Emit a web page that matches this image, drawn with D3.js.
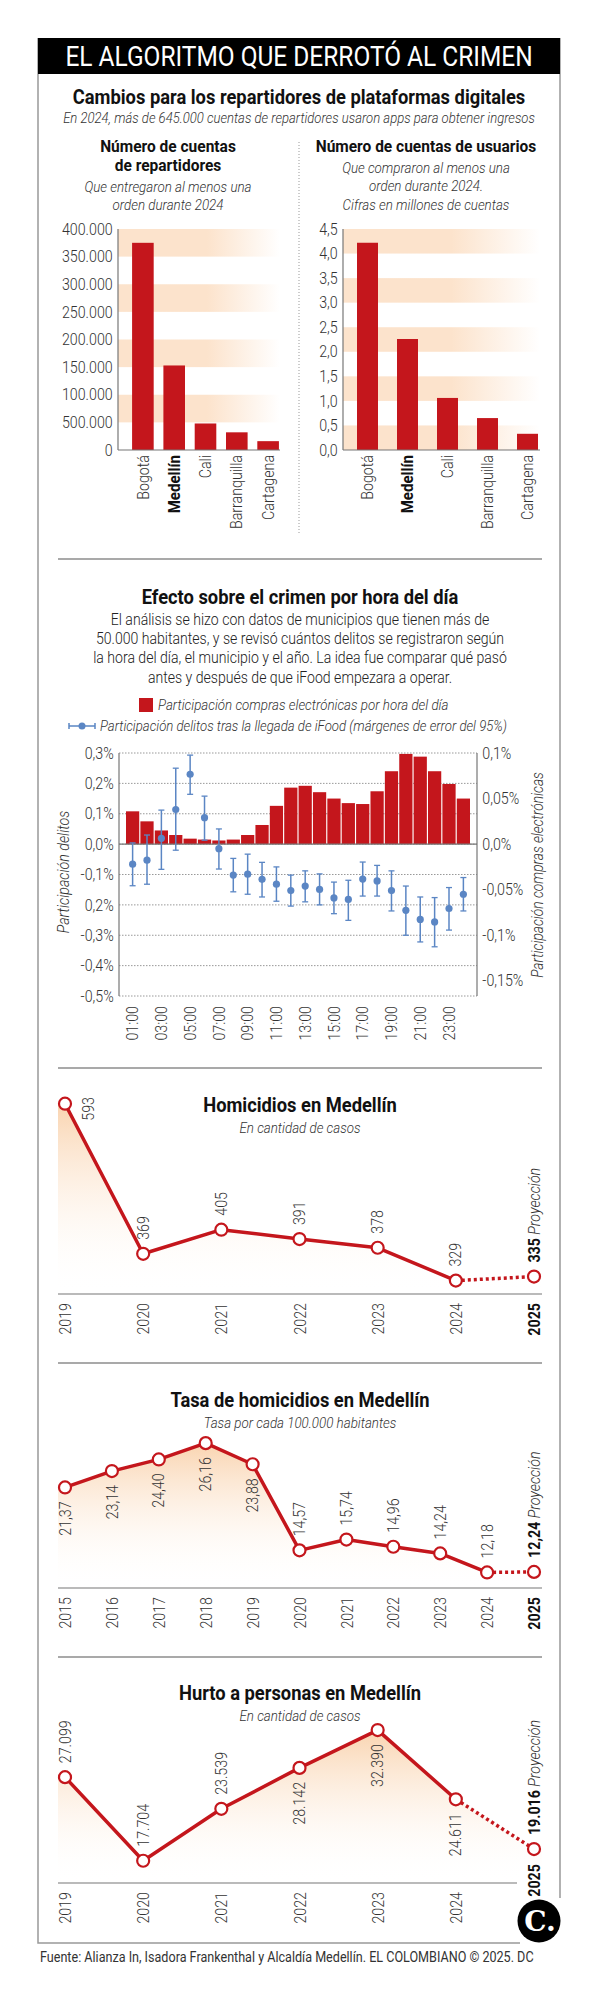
<!DOCTYPE html>
<html>
<head>
<meta charset="utf-8">
<script src="https://cdn.jsdelivr.net/npm/d3@7/dist/d3.min.js"></script>
<style>
  body { margin: 0; background: #fff; }
  svg { display: block; }
</style>
</head>
<body>
<div class="chart"></div>
<script>
// ---------- data ----------
const cities = ["Bogotá", "Medellín", "Cali", "Barranquilla", "Cartagena"];
const repartidores = [375000, 153000, 48000, 32000, 16000];
const usuarios = [4.22, 2.26, 1.06, 0.65, 0.33];
const repTicks = [0, 50000, 100000, 150000, 200000, 250000, 300000, 350000, 400000];
const repTickLabels = ["0", "500.000", "100.000", "150.000", "200.000", "250.000", "300.000", "350.000", "400.000"];
const usuTicks = [0, 0.5, 1, 1.5, 2, 2.5, 3, 3.5, 4, 4.5];
const usuTickLabels = ["0,0", "0,5", "1,0", "1,5", "2,0", "2,5", "3,0", "3,5", "4,0", "4,5"];

const hours = ["01:00", "02:00", "03:00", "04:00", "05:00", "06:00", "07:00", "08:00", "09:00", "10:00", "11:00", "12:00",
               "13:00", "14:00", "15:00", "16:00", "17:00", "18:00", "19:00", "20:00", "21:00", "22:00", "23:00", "24:00"];
const hourTicks = ["01:00", "03:00", "05:00", "07:00", "09:00", "11:00", "13:00", "15:00", "17:00", "19:00", "21:00", "23:00"];
const compras = [0.036, 0.025, 0.015, 0.010, 0.006, 0.005, 0.004, 0.005, 0.010, 0.021, 0.042, 0.062,
                 0.064, 0.057, 0.050, 0.045, 0.044, 0.058, 0.080, 0.099, 0.096, 0.080, 0.066, 0.050];
const delitos = [-0.066, -0.053, 0.019, 0.114, 0.230, 0.087, -0.015, -0.102, -0.099, -0.116, -0.132, -0.153,
                 -0.138, -0.149, -0.177, -0.182, -0.115, -0.121, -0.153, -0.218, -0.248, -0.256, -0.212, -0.165];
const delitosHigh = [0.004, 0.030, 0.112, 0.250, 0.293, 0.158, 0.050, -0.047, -0.033, -0.060, -0.075, -0.102,
                     -0.088, -0.098, -0.125, -0.119, -0.059, -0.070, -0.088, -0.138, -0.174, -0.176, -0.143, -0.110];
const delitosLow = [-0.137, -0.132, -0.083, -0.020, 0.164, 0.013, -0.082, -0.157, -0.165, -0.174, -0.188, -0.204,
                    -0.190, -0.200, -0.229, -0.251, -0.171, -0.171, -0.220, -0.300, -0.322, -0.338, -0.283, -0.220];
const delTicks = [0.3, 0.2, 0.1, 0, -0.1, -0.2, -0.3, -0.4, -0.5];
const delTickLabels = ["0,3%", "0,2%", "0,1%", "0,0%", "-0,1%", "0,2%", "-0,3%", "-0,4%", "-0,5%"];
const compTicks = [0.1, 0.05, 0, -0.05, -0.1, -0.15];
const compTickLabels = ["0,1%", "0,05%", "0,0%", "-0,05%", "-0,1%", "-0,15%"];

const homYears = ["2019", "2020", "2021", "2022", "2023", "2024", "2025"];
const homicidios = [593, 369, 405, 391, 378, 329, 335];
const tasaYears = ["2015", "2016", "2017", "2018", "2019", "2020", "2021", "2022", "2023", "2024", "2025"];
const tasa = [21.37, 23.14, 24.40, 26.16, 23.88, 14.57, 15.74, 14.96, 14.24, 12.18, 12.24];
const hurtoYears = ["2019", "2020", "2021", "2022", "2023", "2024", "2025"];
const hurto = [27099, 17704, 23539, 28142, 32390, 24611, 19016];

// ---------- setup ----------
const RED = "#c4161c", BLUE = "#5b86c4";
const frameL = 38, frameR = 560, innerL = 58, innerR = 542;
// no Roboto Condensed here, so Roboto gets squeezed horizontally
const SX = 0.89, SX_BOLD = 0.94;

const es = d3.formatLocale({decimal: ",", thousands: ".", grouping: [3], currency: ["$", ""]});
const fmtInt = es.format(",d");
const fmtDec = es.format(",.2f");

const svg = d3.select(".chart")
  .append("svg")
  .attr("width", 600)
  .attr("height", 2000)
  .style("font-family", "Roboto, 'Noto Sans', sans-serif");

const defs = svg.append("defs");
const stripe = defs.append("linearGradient").attr("id", "stripe")
  .attr("x1", 0).attr("x2", 1).attr("y1", 0).attr("y2", 0);
stripe.append("stop").attr("offset", "0%").attr("stop-color", "#fce3cc");
stripe.append("stop").attr("offset", "55%").attr("stop-color", "#fce3cc");
stripe.append("stop").attr("offset", "100%").attr("stop-color", "#ffffff");
const areaFill = defs.append("linearGradient").attr("id", "areaFill")
  .attr("x1", 0).attr("x2", 0).attr("y1", 0).attr("y2", 1);
areaFill.append("stop").attr("offset", "0%").attr("stop-color", "#f8c99c").attr("stop-opacity", 0.8);
areaFill.append("stop").attr("offset", "100%").attr("stop-color", "#ffffff").attr("stop-opacity", 0);

function txt(g, x, y, str, o = {}) {
  const w = o.weight || 300;
  const sx = o.sx || (w >= 700 ? SX_BOLD : SX);
  return g.append("text")
    .attr("transform", `translate(${x},${y}) rotate(${o.rot || 0}) scale(${sx},1)`)
    .attr("text-anchor", o.anchor || "middle")
    .attr("dy", o.dy || "0.35em")
    .attr("fill", o.fill || "#333")
    .style("font-size", (o.size || 16) + "px")
    .style("font-weight", w)
    .style("font-style", o.italic ? "italic" : "normal")
    .text(str);
}

function hline(y, x1 = innerL, x2 = innerR) {
  svg.append("line").attr("x1", x1).attr("x2", x2).attr("y1", y).attr("y2", y)
    .attr("stroke", "#555").attr("stroke-width", 1.2);
}

// ---------- frame & header ----------
svg.append("path")
  .attr("d", `M${frameL},38 V1943 H520 M${frameR},38 V1898`)
  .attr("fill", "none").attr("stroke", "#999").attr("stroke-width", 1.5);
svg.append("rect").attr("x", frameL).attr("y", 38).attr("width", frameR - frameL).attr("height", 36).attr("fill", "#000");
txt(svg, 299, 56, "EL ALGORITMO QUE DERROTÓ AL CRIMEN", {size: 27.5, weight: 400, fill: "#fff"});
txt(svg, 299, 97, "Cambios para los repartidores de plataformas digitales", {size: 19.5, weight: 700, fill: "#111"});
txt(svg, 299, 118, "En 2024, más de 645.000 cuentas de repartidores usaron apps para obtener ingresos", {size: 14.7, italic: true});

// ---------- bar charts ----------
txt(svg, 168, 146, "Número de cuentas", {size: 16.5, weight: 700, fill: "#111"});
txt(svg, 168, 165, "de repartidores", {size: 16.5, weight: 700, fill: "#111"});
txt(svg, 168, 187, "Que entregaron al menos una", {size: 15, italic: true});
txt(svg, 168, 205, "orden durante 2024", {size: 15, italic: true});

txt(svg, 426, 146, "Número de cuentas de usuarios", {size: 16.5, weight: 700, fill: "#111"});
txt(svg, 426, 168, "Que compraron al menos una", {size: 15, italic: true});
txt(svg, 426, 186, "orden durante 2024.", {size: 15, italic: true});
txt(svg, 426, 205, "Cifras en millones de cuentas", {size: 15, italic: true});

svg.append("line").attr("x1", 299).attr("x2", 299).attr("y1", 142).attr("y2", 533)
  .attr("stroke", "#999").attr("stroke-dasharray", "1,2");

function barChart(o) {
  const g = svg.append("g");
  const x = d3.scaleBand().domain(cities).range(o.xRange).paddingInner(o.pi).paddingOuter(o.po);
  const y = d3.scaleLinear().domain([0, d3.max(o.ticks)]).range([450, 229]);
  const n = o.ticks.length - 1;
  const x0 = o.xRange[0];

  // alternating shaded bands, top band shaded
  g.selectAll("rect.stripe")
    .data(d3.range(n).filter(i => (n - 1 - i) % 2 === 0))
    .join("rect")
    .attr("class", "stripe")
    .attr("x", x0)
    .attr("width", o.stripeW)
    .attr("y", i => y(o.ticks[i + 1]))
    .attr("height", i => y(o.ticks[i]) - y(o.ticks[i + 1]))
    .attr("fill", "url(#stripe)");

  g.selectAll("rect.bar")
    .data(o.values)
    .join("rect")
    .attr("class", "bar")
    .attr("x", (d, i) => x(cities[i]))
    .attr("width", x.bandwidth())
    .attr("y", d => y(d))
    .attr("height", d => y(0) - y(d))
    .attr("fill", RED);

  const ax = g.append("g")
    .attr("transform", `translate(${x0},0)`)
    .call(d3.axisLeft(y).tickValues(o.ticks).tickFormat((d, i) => o.tickLabels[i]).tickSize(0).tickPadding(6));
  styleTicks(ax).attr("transform", `scale(${SX},1)`);

  g.append("line").attr("x1", x0).attr("x2", x0).attr("y1", y(d3.max(o.ticks))).attr("y2", y(0))
    .attr("stroke", "#777").attr("stroke-width", 1.2);
  g.append("line").attr("x1", x0).attr("x2", x0 + o.stripeW).attr("y1", y(0)).attr("y2", y(0))
    .attr("stroke", "#777").attr("stroke-width", 1.2);

  cities.forEach(c => {
    const bold = c === "Medellín";
    txt(g, x(c) + x.bandwidth() / 2, y(0) + 5, c,
      {rot: -90, anchor: "end", weight: bold ? 700 : 300, fill: bold ? "#111" : "#333"});
  });
}

function styleTicks(ax) {
  ax.select(".domain").remove();
  ax.attr("font-family", null).attr("font-size", null);
  return ax.selectAll("text")
    .attr("fill", "#333")
    .style("font-size", "16px")
    .style("font-weight", 300);
}

barChart({values: repartidores, ticks: repTicks, tickLabels: repTickLabels,
  xRange: [118, 293], pi: 0.31, po: 0.45, stripeW: 162});
barChart({values: usuarios, ticks: usuTicks, tickLabels: usuTickLabels,
  xRange: [343, 552], pi: 0.475, po: 0.35, stripeW: 197});

hline(559);

// ---------- crime by hour ----------
const crime = svg.append("g");
txt(crime, 300, 597, "Efecto sobre el crimen por hora del día", {size: 19.5, weight: 700, fill: "#111"});
[
  "El análisis se hizo con datos de municipios que tienen más de",
  "50.000 habitantes, y se revisó cuántos delitos se registraron según",
  "la hora del día, el municipio y el año. La idea fue comparar qué pasó",
  "antes y después de que iFood empezara a operar."
].forEach((line, i) => txt(crime, 300, 619 + i * 19.4, line, {size: 16, fill: "#222", sx: 0.88}));

// legend
crime.append("rect").attr("x", 139).attr("y", 698).attr("width", 14).attr("height", 14).attr("fill", RED);
txt(crime, 158, 705, "Participación compras electrónicas por hora del día", {size: 15, italic: true, anchor: "start"});
crime.append("path").attr("d", "M69,726 H95 M69,723 V729 M95,723 V729")
  .attr("stroke", BLUE).attr("stroke-width", 1.5).attr("fill", "none");
crime.append("circle").attr("cx", 82).attr("cy", 726).attr("r", 3.5).attr("fill", BLUE);
txt(crime, 100, 726, "Participación delitos tras la llegada de iFood (márgenes de error del 95%)", {size: 15, italic: true, anchor: "start", sx: 0.88});

const cx = d3.scaleBand().domain(hours).range([126, 470]).paddingInner(0.08);
const yL = d3.scaleLinear().domain([-0.5, 0.3]).range([996, 753]);
const yR = d3.scaleLinear().domain([-0.5 / 3, 0.1]).range([996, 753]);
const plotL = 119, plotR = 477;

crime.selectAll("line.grid")
  .data(delTicks)
  .join("line")
  .attr("class", "grid")
  .attr("x1", plotL).attr("x2", plotR)
  .attr("y1", d => yL(d)).attr("y2", d => yL(d))
  .attr("stroke", "#999")
  .attr("stroke-dasharray", "1.5,1.5");

crime.selectAll("rect.bar")
  .data(compras)
  .join("rect")
  .attr("class", "bar")
  .attr("x", (d, i) => cx(hours[i]))
  .attr("width", cx.bandwidth())
  .attr("y", d => yR(d))
  .attr("height", d => yR(0) - yR(d))
  .attr("fill", RED);

crime.append("line").attr("x1", plotL).attr("x2", plotR).attr("y1", yL(0)).attr("y2", yL(0))
  .attr("stroke", "#777").attr("stroke-width", 1.2);

const eb = crime.selectAll("g.err")
  .data(delitos)
  .join("g")
  .attr("class", "err")
  .attr("transform", (d, i) => `translate(${cx(hours[i]) + cx.bandwidth() / 2},0)`);
eb.append("line")
  .attr("y1", (d, i) => yL(delitosHigh[i]))
  .attr("y2", (d, i) => yL(delitosLow[i]))
  .attr("stroke", BLUE).attr("stroke-width", 1.5);
eb.append("line").attr("x1", -3).attr("x2", 3)
  .attr("y1", (d, i) => yL(delitosHigh[i])).attr("y2", (d, i) => yL(delitosHigh[i]))
  .attr("stroke", BLUE).attr("stroke-width", 1.3);
eb.append("line").attr("x1", -3).attr("x2", 3)
  .attr("y1", (d, i) => yL(delitosLow[i])).attr("y2", (d, i) => yL(delitosLow[i]))
  .attr("stroke", BLUE).attr("stroke-width", 1.3);
eb.append("circle").attr("cy", d => yL(d)).attr("r", 3.6).attr("fill", BLUE);

crime.append("path").attr("d", `M${plotL},753 V996 M${plotR},753 V996`)
  .attr("stroke", "#777").attr("stroke-width", 1.2);

styleTicks(crime.append("g").attr("transform", `translate(${plotL},0)`)
  .call(d3.axisLeft(yL).tickValues(delTicks).tickFormat((d, i) => delTickLabels[i]).tickSize(0).tickPadding(6)))
  .attr("transform", `scale(${SX},1)`);
styleTicks(crime.append("g").attr("transform", `translate(${plotR},0)`)
  .call(d3.axisRight(yR).tickValues(compTicks).tickFormat((d, i) => compTickLabels[i]).tickSize(0).tickPadding(6)))
  .attr("transform", `scale(${SX},1)`);
styleTicks(crime.append("g").attr("transform", "translate(0,996)")
  .call(d3.axisBottom(cx).tickValues(hourTicks).tickSize(0)))
  .attr("x", 0).attr("y", 0).attr("dy", "0.35em")
  .attr("text-anchor", "end")
  .attr("transform", `translate(0,10) rotate(-90) scale(${SX},1)`);

txt(crime, 63, 872, "Participación delitos", {rot: -90, size: 16, italic: true});
txt(crime, 537, 875, "Participación compras electrónicas", {rot: -90, size: 16, italic: true, sx: 0.86});

hline(1068);

// ---------- line charts ----------
function lineChart(o) {
  const g = svg.append("g");
  txt(g, 300, o.titleY, o.title, {size: 19.5, weight: 700, fill: "#111"});
  txt(g, 300, o.titleY + 23, o.subtitle, {size: 15, italic: true});

  const x = d3.scalePoint().domain(o.years).range([65, 534]);
  const y = d3.scaleLinear().domain(o.domain).range([o.axisY, o.topY]);
  const pts = o.years.map((yr, i) => [x(yr), y(o.values[i])]);
  const n = pts.length;

  // shaded area runs out to the section edges
  const areaPts = [[innerL, pts[0][1]], ...pts, [innerR, pts[n - 1][1]]];
  g.append("path")
    .datum(areaPts)
    .attr("d", d3.area().x(d => d[0]).y0(o.axisY).y1(d => d[1]))
    .attr("fill", "url(#areaFill)");

  g.append("line").attr("x1", innerL).attr("x2", o.axisEnd).attr("y1", o.axisY).attr("y2", o.axisY)
    .attr("stroke", "#777").attr("stroke-width", 1.2);

  g.append("path").datum(pts.slice(0, n - 1))
    .attr("d", d3.line())
    .attr("fill", "none").attr("stroke", RED).attr("stroke-width", 3.5).attr("stroke-linejoin", "round");
  g.append("path").datum(pts.slice(n - 2))
    .attr("d", d3.line())
    .attr("fill", "none").attr("stroke", RED).attr("stroke-width", 3.5).attr("stroke-dasharray", "3,3");

  g.selectAll("circle")
    .data(pts)
    .join("circle")
    .attr("cx", d => d[0]).attr("cy", d => d[1]).attr("r", 6)
    .attr("fill", "#fff").attr("stroke", RED).attr("stroke-width", 2.2);

  pts.slice(0, n - 1).forEach((p, i) => {
    const s = o.fmt(o.values[i]);
    if (o.pos[i] === "a") txt(g, p[0], p[1] - 14, s, {rot: -90, anchor: "start"});
    else if (o.pos[i] === "b") txt(g, p[0], p[1] + 14, s, {rot: -90, anchor: "end"});
    else txt(g, p[0] + 23, p[1] + 17, s, {rot: -90, anchor: "start"});
  });
  const last = pts[n - 1];
  const pl = txt(g, last[0], last[1] - 14, "", {rot: -90, anchor: "start"});
  pl.append("tspan").style("font-weight", 700).attr("fill", "#111").text(o.fmt(o.values[n - 1]));
  pl.append("tspan").style("font-style", "italic").text(" Proyección");

  const ax = g.append("g").attr("transform", `translate(0,${o.axisY})`)
    .call(d3.axisBottom(x).tickSize(0));
  styleTicks(ax)
    .attr("x", 0).attr("y", 0).attr("dy", "0.35em")
    .attr("text-anchor", "end")
    .attr("fill", (d, i) => i === n - 1 ? "#111" : "#333")
    .style("font-weight", (d, i) => i === n - 1 ? 700 : 300)
    .attr("transform", (d, i) => {
      const off = (o.lastAtPoint && i === n - 1) ? last[1] - o.axisY + 15 : 9;
      return `translate(0,${off}) rotate(-90) scale(${SX},1)`;
    });
}

lineChart({title: "Homicidios en Medellín", subtitle: "En cantidad de casos", titleY: 1105,
  years: homYears, values: homicidios, fmt: fmtInt,
  domain: [309, 600], axisY: 1294, topY: 1099, axisEnd: innerR,
  pos: ["r", "a", "a", "a", "a", "a"]});

hline(1363);

lineChart({title: "Tasa de homicidios en Medellín", subtitle: "Tasa por cada 100.000 habitantes", titleY: 1400,
  years: tasaYears, values: tasa, fmt: fmtDec,
  domain: [10.5, 26.5], axisY: 1588, topY: 1440, axisEnd: innerR,
  pos: ["b", "b", "b", "b", "b", "a", "a", "a", "a", "a"]});

hline(1657);

lineChart({title: "Hurto a personas en Medellín", subtitle: "En cantidad de casos", titleY: 1693,
  years: hurtoYears, values: hurto, fmt: fmtInt,
  domain: [15200, 32400], axisY: 1883, topY: 1730, axisEnd: 517, lastAtPoint: true,
  pos: ["a", "a", "a", "b", "b", "b"]});

// ---------- logo & footer ----------
svg.append("circle").attr("cx", 539).attr("cy", 1921).attr("r", 21.5).attr("fill", "#000");
svg.append("text").attr("x", 540).attr("y", 1921).attr("dy", "0.35em")
  .attr("text-anchor", "middle").attr("fill", "#fff")
  .style("font-family", "'DejaVu Serif', serif").style("font-weight", 700).style("font-size", "28px")
  .text("C.");
txt(svg, 40, 1957, "Fuente: Alianza In, Isadora Frankenthal y Alcaldía Medellín. EL COLOMBIANO © 2025. DC",
  {anchor: "start", size: 14, weight: 400, sx: 0.9});
</script>
</body>
</html>
